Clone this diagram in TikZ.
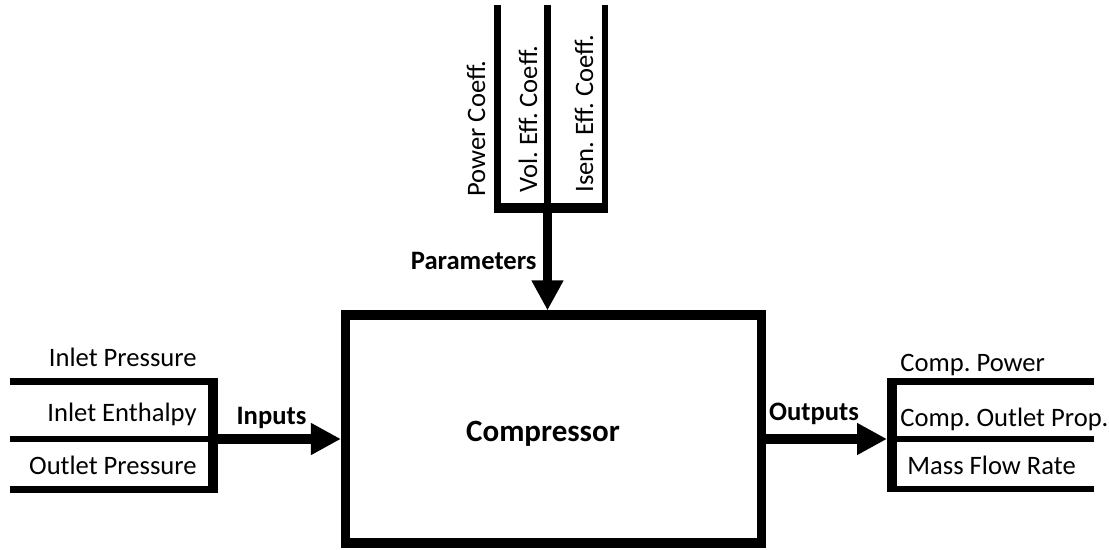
\documentclass[tikz,border=0pt]{standalone}
\usepackage{fontspec}
\setmainfont{Carlito}
\usepackage{tikz}
\usetikzlibrary{arrows.meta,positioning,calc}
\frenchspacing

\begin{document}
\begin{tikzpicture}[
  x=0.5pt, y=-0.5pt,
  lbl/.style={inner sep=0pt, font=\fontsize{13.3}{15}\selectfont},
  tag/.style={inner sep=0pt, font=\fontsize{13.3}{15}\selectfont\bfseries},
  bus/.style={line width=3.2pt},
  bar/.style={line width=4.8pt},
  flow/.style={line width=4.6pt, -{Triangle[length=15pt,width=15pt]}},
  block/.style={draw, line width=4.6pt, minimum width=208pt, minimum height=114pt}
]
  \useasboundingbox (0,0) rectangle (1109,550);

  \node[block] (comp) at (553.5,429) {};
  \node[tag, font=\fontsize{15.5}{17}\selectfont\bfseries, anchor=base] (name) at (543,442) {Compressor};

  % inputs
  \coordinate (in) at (213,439);
  \draw[bus] (10,381.5) -- (213,381.5);
  \draw[bus] (10,439) -- (213,439);
  \draw[bus] (10,489.5) -- (213,489.5);
  \draw[bar] (213,378.3) -- (213,492.7);
  \draw[flow] (in) -- (in -| comp.west);
  \node[lbl, anchor=base east] (inP) at (197,367) {Inlet Pressure};
  \node[lbl, anchor=base east] (inH) at (197,422) {Inlet Enthalpy};
  \node[lbl, anchor=base east] (outP) at (197,475) {Outlet Pressure};
  \node[tag, anchor=base] (inputs) at (271.5,425) {Inputs};

  % outputs
  \coordinate (out) at (892,439);
  \draw[bus] (892,381.5) -- (1094,381.5);
  \draw[bus] (892,439) -- (1094,439);
  \draw[bus] (892,489) -- (1094,489);
  \draw[bar] (892,378.3) -- (892,492.2);
  \draw[flow, shorten >=2.5pt] (out -| comp.east) -- (out);
  \node[lbl, anchor=base west] (power) at (900,371.5) {Comp. Power};
  \node[lbl, anchor=base west] (prop) at (900,427) {Comp. Outlet Prop.};
  \node[lbl, anchor=base west] (mdot) at (907,475) {Mass Flow Rate};
  \node[tag, anchor=base] (outputs) at (814,421) {Outputs};

  % parameters
  \coordinate (par) at (547.5,208);
  \draw[bus] (497.5,5) -- (497.5,208);
  \draw[bus] (547.5,5) -- (547.5,208);
  \draw[bus] (605,5) -- (605,208);
  \draw[bar] (494.3,208) -- (608.2,208);
  \draw[flow] (par) -- (par |- comp.north);
  \node[lbl, rotate=90, anchor=base west] (pcoef) at (485,197) {Power Coeff.};
  \node[lbl, rotate=90, anchor=base west] (vcoef) at (537,193) {Vol. Eff. Coeff.};
  \node[lbl, rotate=90, anchor=base west] (icoef) at (593,193) {Isen. Eff. Coeff.};
  \node[tag, anchor=base east] (params) at (537,270) {Parameters};
\end{tikzpicture}
\end{document}
